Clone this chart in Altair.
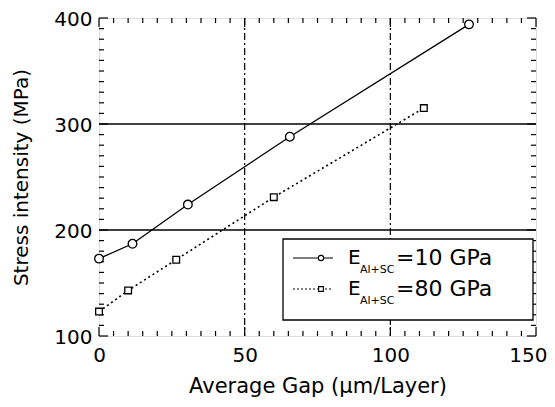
import altair as alt
import pandas as pd

# Data
gap_10 = [0, 11.5, 30.5, 65.5, 127]
stress_10 = [173, 187, 224, 288, 394]
gap_80 = [0, 10, 26.5, 60, 111.5]
stress_80 = [123, 143, 172, 231, 315]
series_names = ["E=10 GPa", "E=80 GPa"]

x_major = [0, 50, 100, 150]
x_minor = [v for v in range(0, 151, 5) if v % 50 != 0]
y_major = [100, 200, 300, 400]
y_minor = [v for v in range(100, 401, 10) if v % 100 != 0]
x_grid = [50, 100]
y_grid = [200, 300]

W, H = 437, 318
FONT = "DejaVu Sans"

df = pd.concat([
    pd.DataFrame({"gap": gap_10, "stress": stress_10, "series": series_names[0]}),
    pd.DataFrame({"gap": gap_80, "stress": stress_80, "series": series_names[1]}),
])

xs = alt.Scale(domain=[0, 150], nice=False, zero=False)
ys = alt.Scale(domain=[100, 400], nice=False, zero=False)

last_x = "datum.value === %d" % x_major[-1]
xaxis = alt.Axis(values=x_major, ticks=False, domain=False, grid=False,
                 labelFontSize=20, labelPadding=9, labelColor="black", labelFlush=False,
                 labelAlign={"condition": {"test": last_x, "value": "right"}, "value": "center"},
                 labelOffset={"condition": {"test": last_x, "value": 11}, "value": 0},
                 title="Average Gap (\u03bcm/Layer)", titleFontSize=21,
                 titleFontWeight="normal", titlePadding=10, titleColor="black",
                 labelFont=FONT, titleFont=FONT)
yaxis = alt.Axis(values=y_major, ticks=False, domain=False, grid=False,
                 labelFontSize=20, labelPadding=7, labelColor="black", labelFlush=False,
                 labelOffset=1,
                 title="Stress intensity  (MPa)", titleFontSize=20,
                 titleFontWeight="normal", titlePadding=22, titleColor="black",
                 labelFont=FONT, titleFont=FONT)


def xticks(vals, length):
    d = pd.DataFrame({"v": vals})
    bottom = alt.Chart(d).mark_rule(color="black", strokeWidth=1.2).encode(
        x=alt.X("v:Q", scale=xs, axis=xaxis), y=alt.value(H), y2=alt.value(H - length))
    top = alt.Chart(d).mark_rule(color="black", strokeWidth=1.2).encode(
        x=alt.X("v:Q", scale=xs, axis=xaxis), y=alt.value(0), y2=alt.value(length))
    return [bottom, top]


def yticks(vals, length):
    d = pd.DataFrame({"v": vals})
    left = alt.Chart(d).mark_rule(color="black", strokeWidth=1.2).encode(
        y=alt.Y("v:Q", scale=ys, axis=yaxis), x=alt.value(0), x2=alt.value(length))
    right = alt.Chart(d).mark_rule(color="black", strokeWidth=1.2).encode(
        y=alt.Y("v:Q", scale=ys, axis=yaxis), x=alt.value(W), x2=alt.value(W - length))
    return [left, right]


vgrid = alt.Chart(pd.DataFrame({"v": x_grid})).mark_rule(
    color="black", strokeWidth=1.2, strokeDash=[7, 3, 2, 3]).encode(
    x=alt.X("v:Q", scale=xs, axis=xaxis))
hgrid = alt.Chart(pd.DataFrame({"v": y_grid})).mark_rule(
    color="black", strokeWidth=1.3).encode(
    y=alt.Y("v:Q", scale=ys, axis=yaxis))

enc = dict(x=alt.X("gap:Q", scale=xs, axis=xaxis), y=alt.Y("stress:Q", scale=ys, axis=yaxis))
s1 = df[df.series == series_names[0]]
s2 = df[df.series == series_names[1]]
line1 = alt.Chart(s1).mark_line(color="black", strokeWidth=1.3).encode(**enc)
pts1 = alt.Chart(s1).mark_point(shape="circle", filled=False, fill="white", fillOpacity=1,
                                stroke="black", size=75, strokeWidth=1.3, opacity=1).encode(**enc)
line2 = alt.Chart(s2).mark_line(color="black", strokeWidth=1.6, strokeDash=[2, 3]).encode(**enc)
pts2 = alt.Chart(s2).mark_point(shape="square", filled=False, fill="white", fillOpacity=1,
                                stroke="black", size=45, strokeWidth=1.3, opacity=1).encode(**enc)

# Legend (drawn manually for subscripts)
one = pd.DataFrame({"k": [0]})
legend_box = alt.Chart(one).mark_rect(fill="white", stroke="black", strokeWidth=1.3).encode(
    x=alt.value(184), x2=alt.value(434), y=alt.value(221), y2=alt.value(302))
leg = [legend_box]
for yy, dash, shape, num in [(240, None, "circle", "=10 GPa"),
                             (271, [2, 2], "square", "=80 GPa")]:
    kw = dict(color="black", strokeWidth=1.2)
    if dash:
        kw["strokeDash"] = dash
    leg.append(alt.Chart(one).mark_rule(**kw).encode(
        x=alt.value(194), x2=alt.value(234), y=alt.value(yy)))
    leg.append(alt.Chart(one).mark_point(shape=shape, filled=False, fill="white", fillOpacity=1,
                                         stroke="black", size=28 if shape == "circle" else 22,
                                         strokeWidth=1.1, opacity=1).encode(
        x=alt.value(222), y=alt.value(yy)))
    leg.append(alt.Chart(one).mark_text(text="E", font=FONT, fontSize=20, align="left",
                                        baseline="middle", color="black").encode(
        x=alt.value(249), y=alt.value(yy)))
    leg.append(alt.Chart(one).mark_text(text="Al+SC", font=FONT, fontSize=11, align="left",
                                        baseline="middle", color="black").encode(
        x=alt.value(261), y=alt.value(yy + 12)))
    leg.append(alt.Chart(one).mark_text(text=num, font=FONT, fontSize=22, align="left",
                                        baseline="middle", color="black").encode(
        x=alt.value(297), y=alt.value(yy)))

layers = [hgrid, vgrid] + xticks(x_minor, 5) + xticks(x_major, 9) + \
    yticks(y_minor, 5) + yticks(y_major, 9) + [line1, pts1, line2, pts2] + leg

chart = alt.layer(*layers).properties(
    width=W, height=H,
    autosize=alt.AutoSizeParams(type="none"),
    padding={"left": 91, "top": 10, "right": 11, "bottom": 63},
).configure_view(stroke="black", strokeWidth=1.5).configure(background="white")

chart.save("out.html", embed_options={"renderer": "svg", "actions": False})
